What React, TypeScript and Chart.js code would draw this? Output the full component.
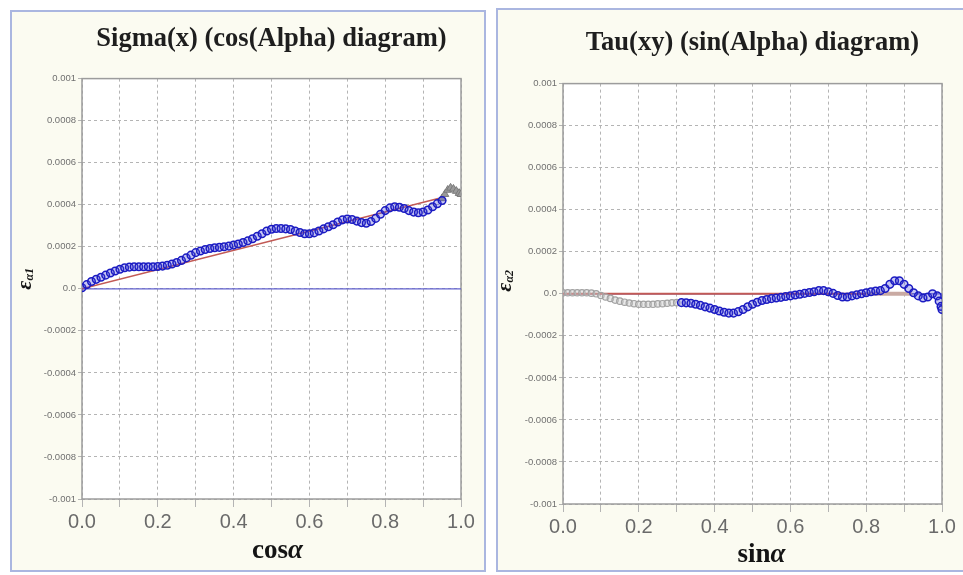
import React, { useEffect, useRef } from "react";
import { Chart, registerables } from "chart.js";

Chart.register(...registerables);

// ---- axis ranges -------------------------------------------------------
const X_MIN = 0;
const X_MAX = 1;
const X_STEP = 0.1;
const Y_MIN = -0.001;
const Y_MAX = 0.001;
const Y_STEP = 0.0002;

// ---- Sigma(x) vs cos(alpha) -------------------------------------------
const sigmaX = [
  0, 0.0125, 0.025, 0.0375, 0.05, 0.0625, 0.075, 0.0875, 0.1, 0.1125,
  0.125, 0.1375, 0.15, 0.1625, 0.175, 0.1875, 0.2, 0.2125, 0.225, 0.2375,
  0.25, 0.2625, 0.275, 0.2875, 0.3, 0.3125, 0.325, 0.3375, 0.35, 0.3625,
  0.375, 0.3875, 0.4, 0.4125, 0.425, 0.4375, 0.45, 0.4625, 0.475, 0.4875,
  0.5, 0.5125, 0.525, 0.5375, 0.55, 0.5625, 0.575, 0.5875, 0.6, 0.6125,
  0.625, 0.6375, 0.65, 0.6625, 0.675, 0.6875, 0.7, 0.7125, 0.725, 0.7375,
  0.75, 0.7625, 0.775, 0.7875, 0.8, 0.8125, 0.825, 0.8375, 0.85, 0.8625,
  0.875, 0.8875, 0.9, 0.9125, 0.925, 0.9375, 0.95,
];
const sigmaStrain = [
  0.05e-4, 0.2e-4, 0.35e-4, 0.45e-4, 0.55e-4, 0.65e-4, 0.75e-4, 0.85e-4, 0.93e-4, 1.0e-4,
  1.03e-4, 1.05e-4, 1.05e-4, 1.05e-4, 1.05e-4, 1.05e-4, 1.06e-4, 1.08e-4, 1.12e-4, 1.18e-4,
  1.25e-4, 1.35e-4, 1.47e-4, 1.6e-4, 1.72e-4, 1.8e-4, 1.87e-4, 1.92e-4, 1.95e-4, 1.97e-4,
  2.0e-4, 2.03e-4, 2.08e-4, 2.13e-4, 2.2e-4, 2.28e-4, 2.38e-4, 2.5e-4, 2.62e-4, 2.75e-4,
  2.83e-4, 2.87e-4, 2.87e-4, 2.85e-4, 2.82e-4, 2.75e-4, 2.68e-4, 2.62e-4, 2.62e-4, 2.66e-4,
  2.75e-4, 2.85e-4, 2.95e-4, 3.05e-4, 3.18e-4, 3.28e-4, 3.32e-4, 3.3e-4, 3.22e-4, 3.15e-4,
  3.12e-4, 3.2e-4, 3.35e-4, 3.55e-4, 3.72e-4, 3.85e-4, 3.9e-4, 3.88e-4, 3.82e-4, 3.72e-4,
  3.65e-4, 3.62e-4, 3.65e-4, 3.75e-4, 3.9e-4, 4.05e-4, 4.2e-4,
];
const sigmaTailX = [0.95, 0.9575, 0.965, 0.9725, 0.98, 0.9875, 0.995, 1.0];
const sigmaTail = [4.3e-4, 4.5e-4, 4.7e-4, 4.8e-4, 4.75e-4, 4.65e-4, 4.55e-4, 4.5e-4];
const sigmaFitX = [0, 0.94];
const sigmaFit = [0, 4.3e-4];

// ---- Tau(xy) vs sin(alpha) --------------------------------------------
const tauHeadX = [
  0, 0.0125, 0.025, 0.0375, 0.05, 0.0625, 0.075, 0.0875, 0.1, 0.1125,
  0.125, 0.1375, 0.15, 0.1625, 0.175, 0.1875, 0.2, 0.2125, 0.225, 0.2375,
  0.25, 0.2625, 0.275, 0.2875, 0.3,
];
const tauHead = [
  0.05e-4, 0.05e-4, 0.05e-4, 0.05e-4, 0.05e-4, 0.05e-4, 0.03e-4, 0, -0.08e-4, -0.15e-4,
  -0.22e-4, -0.3e-4, -0.35e-4, -0.4e-4, -0.44e-4, -0.47e-4, -0.5e-4, -0.5e-4, -0.5e-4, -0.5e-4,
  -0.48e-4, -0.47e-4, -0.45e-4, -0.43e-4, -0.42e-4,
];
const tauX = [
  0.3125, 0.325, 0.3375, 0.35, 0.3625, 0.375, 0.3875, 0.4, 0.4125, 0.425,
  0.4375, 0.45, 0.4625, 0.475, 0.4875, 0.5, 0.5125, 0.525, 0.5375, 0.55,
  0.5625, 0.575, 0.5875, 0.6, 0.6125, 0.625, 0.6375, 0.65, 0.6625, 0.675,
  0.6875, 0.7, 0.7125, 0.725, 0.7375, 0.75, 0.7625, 0.775, 0.7875, 0.8,
  0.8125, 0.825, 0.8375, 0.85, 0.8625, 0.875, 0.8875, 0.9, 0.9125, 0.925,
  0.9375, 0.95, 0.9625, 0.975, 0.9875, 0.9925, 0.9975, 1.0,
];
const tauStrain = [
  -0.42e-4, -0.43e-4, -0.45e-4, -0.5e-4, -0.55e-4, -0.62e-4, -0.68e-4, -0.75e-4, -0.82e-4, -0.88e-4,
  -0.92e-4, -0.92e-4, -0.85e-4, -0.75e-4, -0.62e-4, -0.5e-4, -0.4e-4, -0.32e-4, -0.27e-4, -0.23e-4,
  -0.2e-4, -0.17e-4, -0.13e-4, -0.1e-4, -0.06e-4, -0.02e-4, 0.02e-4, 0.06e-4, 0.1e-4, 0.15e-4,
  0.15e-4, 0.1e-4, 0.02e-4, -0.08e-4, -0.15e-4, -0.15e-4, -0.1e-4, -0.05e-4, 0, 0.05e-4,
  0.1e-4, 0.13e-4, 0.15e-4, 0.25e-4, 0.45e-4, 0.62e-4, 0.62e-4, 0.45e-4, 0.25e-4, 0.05e-4,
  -0.1e-4, -0.2e-4, -0.15e-4, 0, -0.1e-4, -0.35e-4, -0.6e-4, -0.75e-4,
];
const tauFitX = [0, 0.92];
const tauFit = [0, 0];
const tauBandX = [0.8, 0.92];
const tauBand = [0, 0];

const baselineX = [0, 1];
const baseline = [0, 0];

const zip = (xs: number[], ys: number[]) => xs.map((x, i) => ({ x, y: ys[i] }));

// ---- plugins -------------------------------------------------------------
// white plot area + solid frame around it
const plotFrame = {
  id: "plotFrame",
  beforeDraw(chart: any) {
    const { ctx, chartArea: a } = chart;
    ctx.save();
    ctx.fillStyle = "#ffffff";
    ctx.fillRect(a.left, a.top, a.right - a.left, a.bottom - a.top);
    ctx.restore();
  },
  beforeDatasetsDraw(chart: any) {
    const { ctx, chartArea: a } = chart;
    ctx.save();
    ctx.strokeStyle = "#9c9c9c";
    ctx.lineWidth = 1.5;
    ctx.strokeRect(a.left, a.top, a.right - a.left, a.bottom - a.top);
    ctx.restore();
  },
};

type Seg = { text: string; font: string; dy?: number };

// axis captions made of mixed-font runs (e.g. bold "cos" + italic alpha)
const captions = {
  id: "captions",
  afterDraw(chart: any, _args: any, opts: any) {
    const { ctx, chartArea: a } = chart;
    const run = (segs: Seg[], cx: number, cy: number) => {
      let w = 0;
      segs.forEach((s) => {
        ctx.font = s.font;
        w += ctx.measureText(s.text).width;
      });
      let x = cx - w / 2;
      segs.forEach((s) => {
        ctx.font = s.font;
        ctx.fillText(s.text, x, cy + (s.dy || 0));
        x += ctx.measureText(s.text).width;
      });
    };
    ctx.save();
    ctx.fillStyle = "#141414";
    ctx.textBaseline = "alphabetic";
    run(opts.x, (a.left + a.right) / 2 + opts.xShift, a.bottom + opts.xDrop);
    ctx.translate(a.left - opts.yGap, (a.top + a.bottom) / 2 + opts.yShift);
    ctx.rotate(-Math.PI / 2);
    ctx.textBaseline = "middle";
    run(opts.y, 0, 0);
    ctx.restore();
  },
};

const SERIF = '"Liberation Serif", "Times New Roman", serif';
const SANS = '"Liberation Sans", Arial, sans-serif';

function buildConfig(p: {
  title: string;
  titlePad: { top: number; bottom: number };
  yWidth: number;
  rightPad: number;
  xHeight: number;
  datasets: any[];
  xCaption: Seg[];
  yCaption: Seg[];
  xShift: number;
  xDrop: number;
  yGap: number;
  yShift: number;
}): any {
  return {
    type: "line",
    data: { datasets: p.datasets },
    options: {
      animation: false,
      responsive: false,
      devicePixelRatio: 1,
      layout: { padding: { left: 0, right: p.rightPad, top: 0, bottom: 0 } },
      plugins: {
        legend: { display: false },
        tooltip: { enabled: false },
        title: {
          display: true,
          text: p.title,
          fullSize: false,
          color: "#1e1e1e",
          font: { family: SERIF, size: 26.5, weight: "bold", lineHeight: 1.2 },
          padding: p.titlePad,
        },
        captions: {
          x: p.xCaption,
          y: p.yCaption,
          xShift: p.xShift,
          xDrop: p.xDrop,
          yGap: p.yGap,
          yShift: p.yShift,
        },
      },
      scales: {
        x: {
          type: "linear",
          min: X_MIN,
          max: X_MAX,
          afterFit: (s: any) => {
            s.height = p.xHeight;
          },
          border: { display: false, dash: [3, 3] },
          grid: { color: "#b4b4b4", lineWidth: 1, drawTicks: true, tickLength: 8 },
          ticks: {
            stepSize: X_STEP,
            autoSkip: false,
            maxRotation: 0,
            padding: 3,
            color: "#6a6a6a",
            font: { family: SANS, size: 20 },
            callback: (v: number, i: number) => (i % 2 === 0 ? Number(v).toFixed(1) : ""),
          },
        },
        y: {
          type: "linear",
          min: Y_MIN,
          max: Y_MAX,
          afterFit: (s: any) => {
            s.width = p.yWidth;
          },
          border: { display: false, dash: [3, 3] },
          grid: { color: "#b4b4b4", lineWidth: 1, drawTicks: true, tickLength: 4 },
          ticks: {
            stepSize: Y_STEP,
            autoSkip: false,
            padding: 2,
            color: "#707070",
            font: { family: SANS, size: 9.5 },
            callback: (v: number) => {
              const n = Number(Number(v).toFixed(4));
              return Math.abs(n) < 1e-9 ? "0.0" : String(n);
            },
          },
        },
      },
    },
    plugins: [plotFrame, captions],
  };
}

const blueMarkers = {
  showLine: false,
  pointStyle: "circle",
  pointRadius: 3.8,
  pointBorderWidth: 1.5,
  pointBorderColor: "#1b1bc2",
  pointBackgroundColor: "rgba(70,70,215,0.3)",
};

const sigmaConfig = () =>
  buildConfig({
    title: "Sigma(x) (cos(Alpha) diagram)",
    titlePad: { top: 11.4, bottom: 23.4 },
    yWidth: 70,
    rightPad: 23,
    xHeight: 71,
    xShift: 6,
    xDrop: 59,
    yGap: 57,
    yShift: -10,
    xCaption: [
      { text: "cos", font: `bold 27px ${SERIF}` },
      { text: "α", font: `italic bold 27px ${SERIF}` },
    ],
    yCaption: [
      { text: "ε", font: `italic bold 22px ${SERIF}` },
      { text: "α1", font: `italic bold 12px ${SERIF}`, dy: 5 },
    ],
    datasets: [
      {
        label: "measured",
        data: zip(sigmaX, sigmaStrain),
        ...blueMarkers,
        order: 1,
      },
      {
        label: "end",
        data: zip(sigmaTailX, sigmaTail),
        showLine: false,
        pointStyle: "triangle",
        pointRadius: 4.5,
        pointBorderWidth: 1,
        pointBorderColor: "#7a7a7a",
        pointBackgroundColor: "#9a9a9a",
        order: 2,
      },
      {
        label: "fit",
        data: zip(sigmaFitX, sigmaFit),
        borderColor: "#c25a55",
        borderWidth: 1.5,
        pointRadius: 0,
        order: 3,
      },
      {
        label: "zero",
        data: zip(baselineX, baseline),
        borderColor: "#6262cf",
        borderWidth: 1.2,
        pointRadius: 0,
        order: 4,
      },
    ],
  });

const tauConfig = () =>
  buildConfig({
    title: "Tau(xy) (sin(Alpha) diagram)",
    titlePad: { top: 17.4, bottom: 24.4 },
    yWidth: 65,
    rightPad: 26,
    xHeight: 66,
    xShift: 9,
    xDrop: 58,
    yGap: 58,
    yShift: -13,
    xCaption: [
      { text: "sin", font: `bold 27px ${SERIF}` },
      { text: "α", font: `italic bold 27px ${SERIF}` },
    ],
    yCaption: [
      { text: "ε", font: `italic bold 22px ${SERIF}` },
      { text: "α2", font: `italic bold 12px ${SERIF}`, dy: 5 },
    ],
    datasets: [
      {
        label: "measured",
        data: zip(tauX, tauStrain),
        ...blueMarkers,
        order: 1,
      },
      {
        label: "start",
        data: zip(tauHeadX, tauHead),
        showLine: false,
        pointStyle: "circle",
        pointRadius: 3.2,
        pointBorderWidth: 1.2,
        pointBorderColor: "#a2a2a2",
        pointBackgroundColor: "rgba(205,205,205,0.45)",
        order: 2,
      },
      {
        label: "band",
        data: zip(tauBandX, tauBand),
        borderColor: "#c9aaa3",
        borderWidth: 4,
        pointRadius: 0,
        order: 3,
      },
      {
        label: "fit",
        data: zip(tauFitX, tauFit),
        borderColor: "#c25a55",
        borderWidth: 2,
        pointRadius: 0,
        order: 4,
      },
      {
        label: "zero",
        data: zip(baselineX, baseline),
        borderColor: "#6262cf",
        borderWidth: 1.2,
        pointRadius: 0,
        order: 5,
      },
    ],
  });

function Panel(props: {
  left: number;
  top: number;
  width: number;
  height: number;
  config: () => any;
}) {
  const ref = useRef<HTMLCanvasElement>(null);
  useEffect(() => {
    if (!ref.current) return;
    const chart = new Chart(ref.current, props.config());
    return () => chart.destroy();
  }, []);
  return (
    <div
      style={{
        position: "absolute",
        left: props.left,
        top: props.top,
        width: props.width,
        height: props.height,
        border: "2px solid #aab6e0",
        background: "#fbfbf1",
      }}
    >
      <canvas
        ref={ref}
        width={props.width}
        height={props.height}
        style={{ display: "block", width: props.width, height: props.height }}
      />
    </div>
  );
}

export default function App() {
  return (
    <div
      style={{
        position: "absolute",
        left: 0,
        top: 0,
        width: 963,
        height: 575,
        overflow: "hidden",
        background: "#ffffff",
      }}
    >
      <Panel left={10} top={10} width={472} height={558} config={sigmaConfig} />
      <Panel left={496} top={8} width={470} height={560} config={tauConfig} />
    </div>
  );
}
